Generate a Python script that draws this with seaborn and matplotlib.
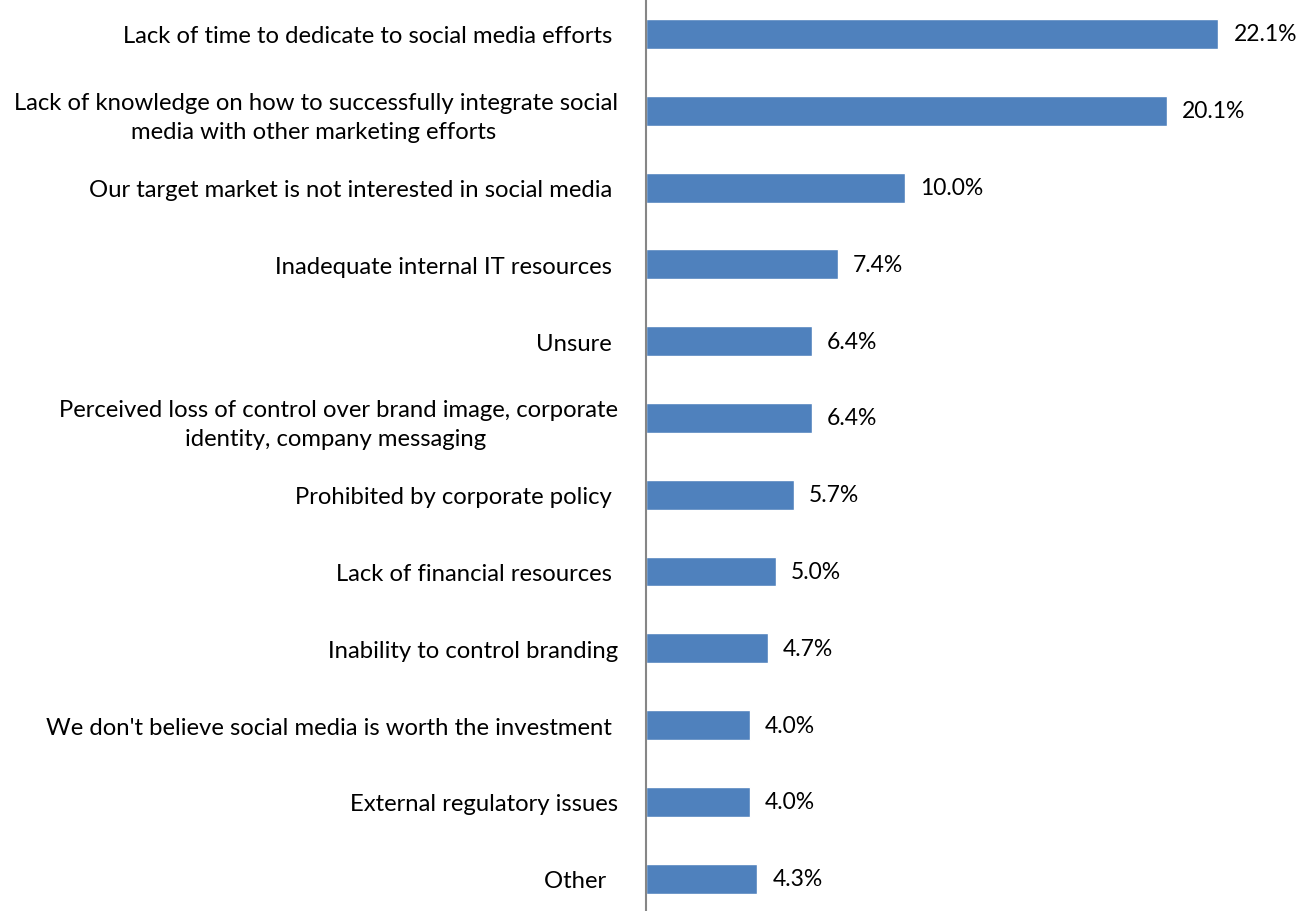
import matplotlib
matplotlib.use("Agg")
import matplotlib.pyplot as plt
import seaborn as sns
import pandas as pd

categories = [
    "Lack of time to dedicate to social media efforts ",
    "Lack of knowledge on how to successfully integrate social\nmedia with other marketing efforts ",
    "Our target market is not interested in social media ",
    "Inadequate internal IT resources ",
    "Unsure ",
    "Perceived loss of control over brand image, corporate\nidentity, company messaging ",
    "Prohibited by corporate policy ",
    "Lack of financial resources ",
    "Inability to control branding",
    "We don't believe social media is worth the investment ",
    "External regulatory issues",
    "Other  ",
]
values = [22.1, 20.1, 10.0, 7.4, 6.4, 6.4, 5.7, 5.0, 4.7, 4.0, 4.0, 4.3]

df = pd.DataFrame({"category": categories, "value": values})

sns.set_theme(style="white")
plt.rcParams["font.family"] = ["Lato", "DejaVu Sans"]

fig = plt.figure(figsize=(13.15, 9.12), dpi=100)
ax = fig.add_axes([646 / 1315, -6 / 912, 669 / 1315, 921.4 / 912])

sns.barplot(data=df, x="value", y="category", orient="h", color="#4F81BD",
            saturation=1, width=0.39, ax=ax)

ax.set_xlim(0, 669 / 25.9)
ax.set_ylim(len(categories) - 0.5, -0.5)
ax.set_xlabel("")
ax.set_ylabel("")
ax.set_xticks([])
ax.tick_params(axis="y", length=0, pad=20, labelsize=17.2, labelcolor="black")
for lbl in ax.get_yticklabels():
    lbl.set_multialignment("center")
    lbl.set_linespacing(1.5)

for s in ["top", "right", "bottom"]:
    ax.spines[s].set_visible(False)
ax.spines["left"].set_color("#868686")
ax.spines["left"].set_linewidth(1.5)

ax.bar_label(ax.containers[0], labels=[f"{v:.1f}%" for v in values],
             padding=11, fontsize=16.5, color="black")

fig.savefig("out.png", dpi=100)
